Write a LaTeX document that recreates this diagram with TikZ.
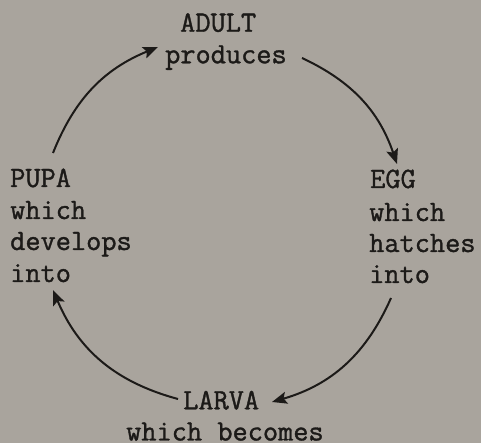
\documentclass[tikz,border=0pt]{standalone}
\usepackage{fontspec}
\newfontfamily\typew{Latin Modern Mono}[FakeBold=1.2]
\usetikzlibrary{arrows.meta}
\definecolor{bg}{RGB}{169,164,157}
\definecolor{ink}{RGB}{28,26,24}
\begin{document}
\begin{tikzpicture}[x=1pt,y=1pt,
  lbl/.style={anchor=base west,inner sep=0pt,text=ink,font=\typew\fontsize{29.5}{31.5}\selectfont},
  cyc/.style={draw=ink,line width=2pt,-{Stealth[length=15pt,width=12pt,inset=3pt]}}]
\fill[bg] (0,0) rectangle (481,443);
\useasboundingbox (0,0) rectangle (481,443);
% texts
\node[lbl] (adult) at (180,411.3) {ADULT};
\node[lbl] (produces) at (165,379.7) {produces};
\node[lbl] (pupa) at (10,256) {PUPA};
\node[lbl] (pupa2) at (10,224) {which};
\node[lbl] (pupa3) at (10,193) {develops};
\node[lbl] (pupa4) at (10,161) {into};
\node[lbl] (egg) at (370,255) {EGG};
\node[lbl] (egg2) at (369,222) {which};
\node[lbl] (egg3) at (369,191) {hatches};
\node[lbl] (egg4) at (369,160) {into};
\node[lbl] (larva) at (183,33.7) {LARVA};
\node[lbl,text depth=0pt] (larva2) at (126,2.5) {which becomes};
% arrow ends
\coordinate (a1s) at (53,290);
\coordinate (a1e) at (158,396);
\coordinate (a2s) at (302,385);
\coordinate (a2e) at (397,279);
\coordinate (a3s) at (391,145);
\coordinate (a3e) at (272,41);
\coordinate (a4s) at (178,44);
\coordinate (a4e) at (53,153);
\draw[cyc] (a1s) to[bend left=23] (a1e);
\draw[cyc] (a2s) to[bend left=23] (a2e);
\draw[cyc] (a3s) to[bend left=25] (a3e);
\draw[cyc] (a4s) to[bend left=26] (a4e);
\end{tikzpicture}
\end{document}
